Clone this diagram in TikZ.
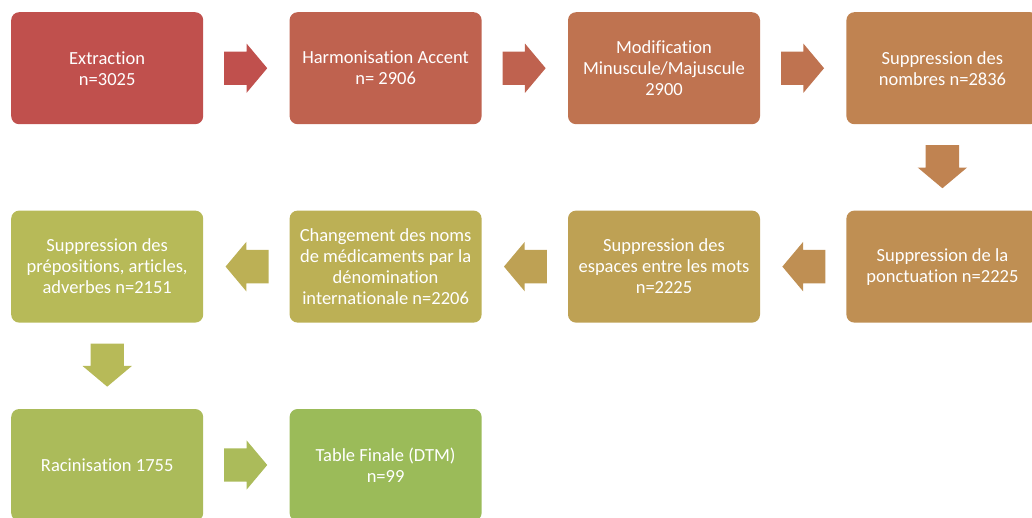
\documentclass[tikz,border=0pt]{standalone}
\usepackage{fontspec}
\setmainfont{Carlito}[Ligatures=NoCommon]
\usetikzlibrary{positioning,calc,shapes.arrows}
\definecolor{etapeA}{HTML}{C0504D}
\definecolor{etapeB}{HTML}{BF624F}
\definecolor{etapeC}{HTML}{BF7350}
\definecolor{etapeD}{HTML}{C08351}
\definecolor{etapeE}{HTML}{BF8F53}
\definecolor{etapeF}{HTML}{BEA154}
\definecolor{etapeG}{HTML}{BCB055}
\definecolor{etapeH}{HTML}{B7BA58}
\definecolor{etapeI}{HTML}{ABBB5A}
\definecolor{etapeJ}{HTML}{9BBB59}

\begin{document}
\begin{tikzpicture}[x=1pt,y=1pt]
  \tikzset{
box/.style={rounded corners=8pt,
    minimum width=192pt,
    minimum height=112pt,
    inner sep=0pt,
    text=white,
    font=\fontsize{18.5}{21}\selectfont,
    align=center},
flech/.style={single arrow,
    single arrow head extend=8pt,
    single arrow tip angle=100,
    minimum width=49pt,
    minimum height=43pt,
    inner xsep=0pt,
    inner ysep=16.5pt,
    anchor=tail},
}

  \useasboundingbox (0,0) rectangle (1032,-517);

  % Nodes
  \node [box, fill=etapeA, anchor=north west] (extract) at (11,-12) {Extraction\\n=3025};
  \node [box, fill=etapeB, right=86pt of extract] (accent) {Harmonisation Accent\\n= 2906};
  \node [box, fill=etapeC, right=86pt of accent] (casse) {Modification\\Minuscule/Majuscule\\2900};
  \node [box, fill=etapeD, right=86pt of casse] (nombres) {Suppression des\\nombres n=2836};
  \node [box, fill=etapeE, below=86pt of nombres] (ponct) {Suppression de la\\ponctuation n=2225};
  \node [box, fill=etapeF, left=86pt of ponct] (espaces) {Suppression des\\espaces entre les mots\\n=2225};
  \node [box, fill=etapeG, left=86pt of espaces] (dci) {Changement des noms\\de médicaments par la\\dénomination\\internationale n=2206};
  \node [box, fill=etapeH, left=86pt of dci] (stopw) {Suppression des\\prépositions, articles,\\adverbes n=2151};
  \node [box, fill=etapeI, below=86pt of stopw] (racin) {Racinisation 1755};
  \node [box, fill=etapeJ, right=86pt of racin] (dtm) {Table Finale (DTM)\\n=99};

  % Block arrows between steps
  \node [flech, fill=etapeA] (f1) at ($(extract.east)!0.24!(accent.west)$) {};
  \node [flech, fill=etapeB] (f2) at ($(accent.east)!0.24!(casse.west)$) {};
  \node [flech, fill=etapeC] (f3) at ($(casse.east)!0.24!(nombres.west)$) {};
  \node [flech, fill=etapeD, rotate=-90] (f4) at ($(nombres.south)!0.24!(ponct.north)$) {};
  \node [flech, fill=etapeE, rotate=180] (f5) at ($(ponct.west)!0.24!(espaces.east)$) {};
  \node [flech, fill=etapeF, rotate=180] (f6) at ($(espaces.west)!0.24!(dci.east)$) {};
  \node [flech, fill=etapeG, rotate=180] (f7) at ($(dci.west)!0.24!(stopw.east)$) {};
  \node [flech, fill=etapeH, rotate=-90] (f8) at ($(stopw.south)!0.24!(racin.north)$) {};
  \node [flech, fill=etapeI] (f9) at ($(racin.east)!0.24!(dtm.west)$) {};
\end{tikzpicture}
\end{document}
